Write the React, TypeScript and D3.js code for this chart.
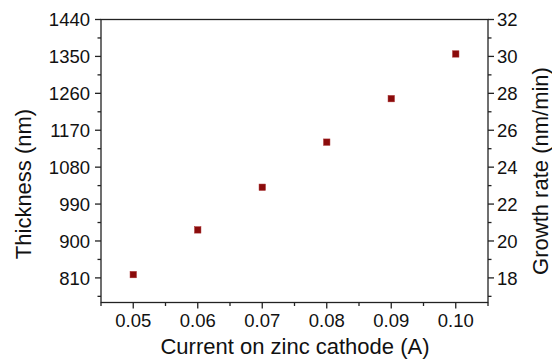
import React, { useEffect } from "react";
import * as d3 from "d3";

const currents = [0.05, 0.06, 0.07, 0.08, 0.09, 0.1];
const thickness = [818, 927, 1031, 1141, 1247, 1356];
const leftTicks = [810, 900, 990, 1080, 1170, 1260, 1350, 1440];
const rightTicks = [18, 20, 22, 24, 26, 28, 30, 32];
const xTicks = [0.05, 0.06, 0.07, 0.08, 0.09, 0.1];
const depositionMinutes = 45;

const W = 552;
const H = 360;
const m = { left: 101, right: 488, top: 19.5, bottom: 302.5 };
const FONT = "Liberation Sans, Arial, sans-serif";

export default function App() {
  useEffect(() => {
    document.body.style.margin = "0";
  }, []);

  const x = d3.scaleLinear().domain([0.045, 0.105]).range([m.left, m.right]);
  const yL = d3.scaleLinear().domain([750, 1440]).range([m.bottom, m.top]);
  const yR = d3
    .scaleLinear()
    .domain([750 / depositionMinutes, 1440 / depositionMinutes])
    .range([m.bottom, m.top]);

  const xMinor = d3.range(0.045, 0.1051, 0.005).filter((v) => !xTicks.some((t) => Math.abs(t - v) < 1e-6));
  const lMinor = d3.range(765, 1440, 90);
  const rMinor = d3.range(17, 32, 2);

  const stroke = "#222";
  const sw = 1.3;
  const major = 6;
  const minor = 3.5;

  return (
    <svg width={W} height={H} style={{ display: "block", background: "#fff" }}>
      <rect
        x={m.left}
        y={m.top}
        width={m.right - m.left}
        height={m.bottom - m.top}
        fill="none"
        stroke={stroke}
        strokeWidth={sw}
      />
      {xTicks.map((t) => (
        <g key={"xt" + t}>
          <line x1={x(t)} x2={x(t)} y1={m.bottom} y2={m.bottom + major} stroke={stroke} strokeWidth={sw} />
          <text x={x(t)} y={327} textAnchor="middle" fontFamily={FONT} fontSize={18.5} fill="#111">
            {d3.format(".2f")(t)}
          </text>
        </g>
      ))}
      {xMinor.map((t, i) => (
        <line key={"xm" + i} x1={x(t)} x2={x(t)} y1={m.bottom} y2={m.bottom + minor} stroke={stroke} strokeWidth={sw} />
      ))}
      {leftTicks.map((t) => (
        <g key={"lt" + t}>
          <line x1={m.left - major} x2={m.left} y1={yL(t)} y2={yL(t)} stroke={stroke} strokeWidth={sw} />
          <text x={90} y={yL(t)} dy="0.36em" textAnchor="end" fontFamily={FONT} fontSize={18.5} fill="#111">
            {t}
          </text>
        </g>
      ))}
      {lMinor.map((t) => (
        <line key={"lm" + t} x1={m.left - minor} x2={m.left} y1={yL(t)} y2={yL(t)} stroke={stroke} strokeWidth={sw} />
      ))}
      {rightTicks.map((t) => (
        <g key={"rt" + t}>
          <line x1={m.right} x2={m.right + major} y1={yR(t)} y2={yR(t)} stroke={stroke} strokeWidth={sw} />
          <text x={497} y={yR(t)} dy="0.36em" textAnchor="start" fontFamily={FONT} fontSize={18.5} fill="#111">
            {t}
          </text>
        </g>
      ))}
      {rMinor.map((t) => (
        <line key={"rm" + t} x1={m.right} x2={m.right + minor} y1={yR(t)} y2={yR(t)} stroke={stroke} strokeWidth={sw} />
      ))}
      <text x={295} y={354} textAnchor="middle" fontFamily={FONT} fontSize={22} fill="#111">
        Current on zinc cathode (A)
      </text>
      <text
        transform={`translate(31,${184}) rotate(-90)`}
        textAnchor="middle"
        fontFamily={FONT}
        fontSize={22}
        fill="#111"
      >
        Thickness (nm)
      </text>
      <text
        transform={`translate(548,${171}) rotate(-90)`}
        textAnchor="middle"
        fontFamily={FONT}
        fontSize={22}
        fill="#111"
      >
        Growth rate (nm/min)
      </text>
      {currents.map((c, i) => (
        <rect
          key={"p" + i}
          x={x(c) - 3.2}
          y={yL(thickness[i]) - 3.2}
          width={6.4}
          height={6.4}
          fill="#8a0b0b"
          stroke="#a52a2a"
          strokeWidth={0.5}
        />
      ))}
    </svg>
  );
}
